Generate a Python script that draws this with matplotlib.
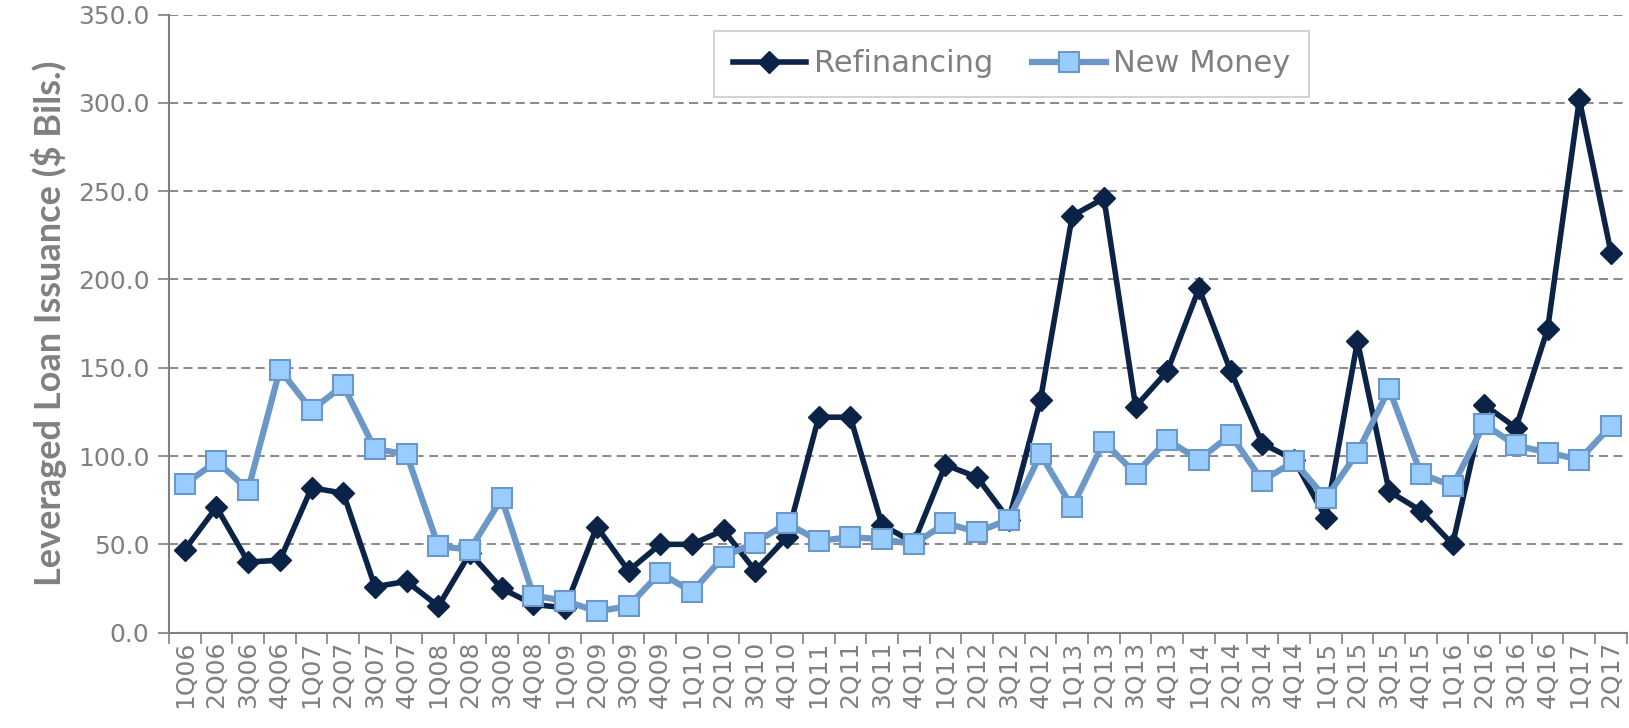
import numpy as np
import matplotlib.pyplot as plt

quarters = [f"{q}Q{y:02d}" for y in range(6, 18) for q in range(1, 5)][:46]

refinancing = [47, 71, 40, 41, 82, 79, 26, 29, 15, 45, 25, 16,
               14, 60, 35, 50, 50, 58, 35, 54, 122, 122, 61, 51,
               95, 88, 64, 132, 236, 246, 128, 148, 195, 148, 107, 98,
               65, 165, 80, 69, 50, 129, 116, 172, 302, 215]
new_money = [84, 97, 81, 149, 126, 140, 104, 101, 49, 47, 76, 21,
             18, 12, 15, 34, 23, 43, 51, 62, 52, 54, 53, 50,
             62, 57, 64, 101, 71, 108, 90, 109, 98, 112, 86, 97,
             76, 102, 138, 90, 83, 118, 106, 102, 98, 117]

grey = "#808080"
navy = "#0b2347"
steel = "#6b98c6"
light = "#99ccff"

fig = plt.figure(figsize=(16.29, 7.28), dpi=100)
ax = fig.add_axes([0.1037, 0.131, 0.895, 0.849])

x = np.arange(len(quarters))
ax.plot(x, refinancing, color=navy, lw=4, marker="D", ms=11,
        mfc=navy, mec=navy, label="Refinancing", zorder=3)
ax.plot(x, new_money, color=steel, lw=4.5, marker="s", ms=14,
        mfc=light, mec=steel, mew=1.5, label="New Money", zorder=4)

ax.set_xlim(-0.5, len(quarters) - 0.5)
ax.set_ylim(0, 350)
ax.set_yticks(np.arange(0, 351, 50))
ax.set_yticklabels([f"{v:.1f}" for v in np.arange(0, 351, 50)])
ax.yaxis.grid(True, ls=(0, (5, 3)), color=grey, lw=1.3)
ax.set_axisbelow(True)

ax.set_xticks(np.arange(-0.5, len(quarters), 1.0))
ax.set_xticklabels([])
ax.set_xticks(x, minor=True)
ax.set_xticklabels(quarters, minor=True, rotation=90)
ax.tick_params(axis="x", which="major", length=8, width=1.2, color=grey)
ax.tick_params(axis="x", which="minor", length=0, pad=6,
               labelsize=18, labelcolor=grey)
ax.tick_params(axis="y", length=8, width=1.2, color=grey,
               labelsize=18, labelcolor=grey, pad=6)

for s in ["top", "right"]:
    ax.spines[s].set_visible(False)
for s in ["left", "bottom"]:
    ax.spines[s].set_color(grey)
    ax.spines[s].set_linewidth(1.5)

ax.set_ylabel("Leveraged Loan Issuance ($ Bils.)", fontsize=26,
              fontweight="bold", color=grey, family="Lato", labelpad=8)

leg = ax.legend(loc="upper center", bbox_to_anchor=(0.578, 0.998), ncol=2,
                fontsize=22, frameon=True, fancybox=False, borderpad=0.6,
                columnspacing=1.3, handlelength=2.4, handletextpad=0.25,
                labelcolor=grey)
leg.get_frame().set_edgecolor("#c8c8c8")
leg.get_frame().set_linewidth(1.5)

fig.savefig("out.png", dpi=100)
